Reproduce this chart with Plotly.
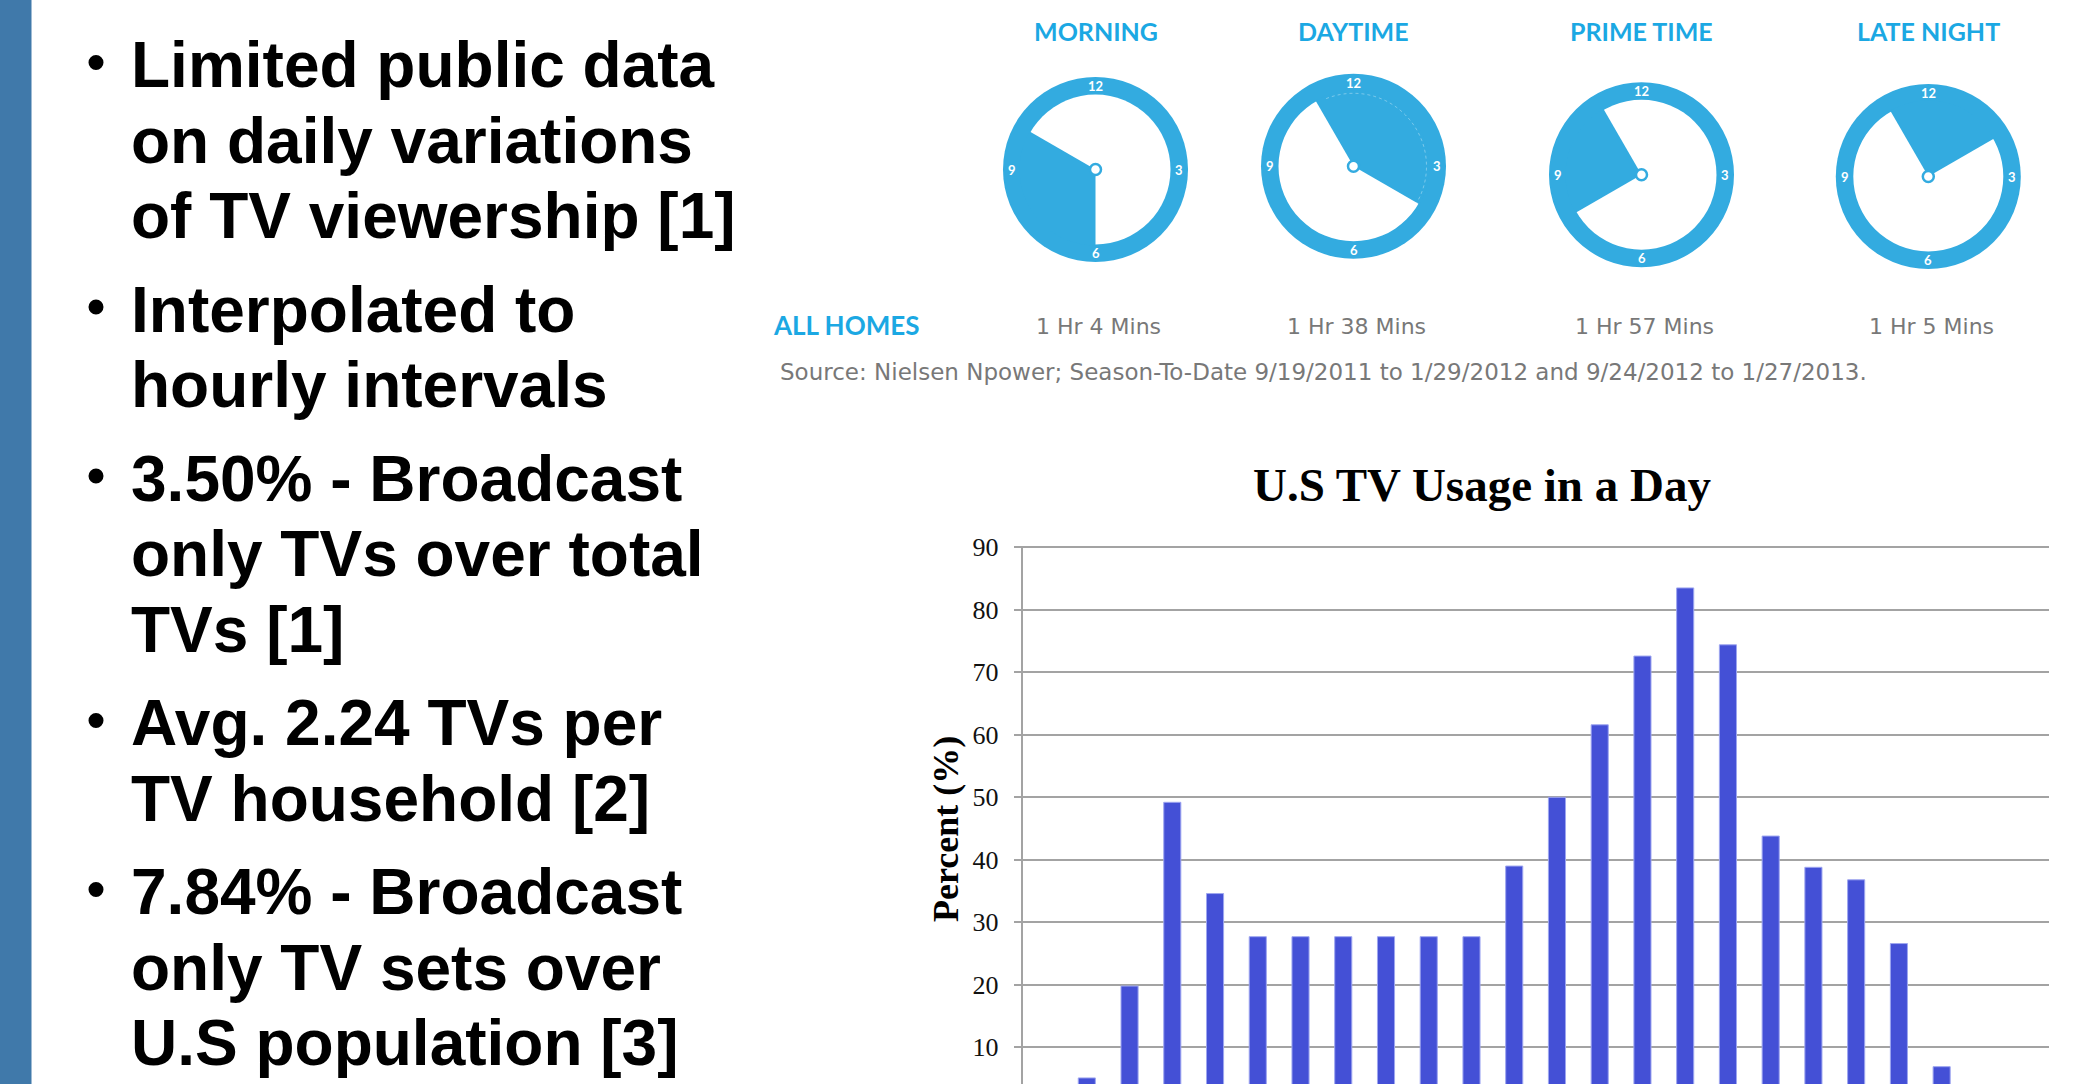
import numpy as np
import plotly.graph_objects as go

W, H = 2094, 1084

# ---- hourly TV usage (percent of TV homes using TV), hours 0..23 ----
hours = list(range(24))
usage_pct = [3.0, 5.1, 19.8, 49.2, 34.6, 27.7, 27.7, 27.7, 27.7, 27.7, 27.7, 39.0,
             50.0, 61.6, 72.6, 83.5, 74.4, 43.8, 38.8, 36.8, 26.6, 6.9, 2.0, 1.0]
y_ticks = [10, 20, 30, 40, 50, 60, 70, 80, 90]
chart_title = "U.S TV Usage in a Day"
y_title = "Percent (%)"

# ---- Nielsen daypart clocks ----
dayparts = ["MORNING", "DAYTIME", "PRIME TIME", "LATE NIGHT"]
daypart_start = [6, 11, 8, 11]   # clock hour where the shaded wedge starts
daypart_end = [10, 4, 11, 2]     # clock hour where it ends (clockwise)
daypart_time = ["1 Hr 4 Mins", "1 Hr 38 Mins", "1 Hr 57 Mins", "1 Hr 5 Mins"]
face_numbers = ["12", "3", "6", "9"]
row_label = "ALL HOMES"
source_note = ("Source: Nielsen Npower; Season-To-Date 9/19/2011 to 1/29/2012 "
               "and 9/24/2012 to 1/27/2013.")

# ---- bullet text ----
bullets = [
    ["Limited public data", "on daily variations", "of TV viewership [1]"],
    ["Interpolated to", "hourly intervals"],
    ["3.50% - Broadcast", "only TVs over total", "TVs [1]"],
    ["Avg. 2.24 TVs per", "TV household [2]"],
    ["7.84% - Broadcast", "only TV sets over", "U.S population [3]"],
]

CLOCK_BLUE = "#33ABE0"
TITLE_BLUE = "#1BA8E3"
BAR_BLUE = "#4450D6"
GRID = "#a3a3a3"


def px(x):
    return x / W


def py(y):
    return 1 - y / H


def path_from(points, close=True):
    s = "M " + " L ".join(f"{px(x):.6f},{py(y):.6f}" for x, y in points)
    return s + (" Z" if close else "")


def clock_point(cx, cy, r, theta_deg):
    t = np.radians(theta_deg)
    return cx + r * np.sin(t), cy - r * np.cos(t)


fig = go.Figure()

fig.add_trace(go.Bar(
    x=hours, y=usage_pct, width=0.4,
    marker=dict(color=BAR_BLUE, line=dict(color="#9ea6f0", width=1)),
    hoverinfo="x+y",
))

plot_left, plot_right, grid90 = 1022.7, 2048.5, 547.3
px_per_unit = 6.25
y_top = 90.25
plot_top = grid90 - (y_top - 90) * px_per_unit
y_bottom = 90 - (H - grid90) / px_per_unit

fig.update_layout(
    width=W, height=H,
    margin=dict(l=0, r=0, t=0, b=0, pad=0, autoexpand=False),
    paper_bgcolor="white", plot_bgcolor="white",
    showlegend=False,
    bargap=0.6,
    xaxis=dict(domain=[px(plot_left), px(plot_right)], range=[-0.5, 23.5],
               visible=False, fixedrange=True, automargin=False),
    yaxis=dict(domain=[0, py(plot_top)], range=[y_bottom, y_top], tickvals=y_ticks,
               showgrid=True, gridcolor=GRID, gridwidth=2,
               showline=True, linecolor=GRID, linewidth=2,
               ticks="outside", ticklen=7, tickwidth=2, tickcolor=GRID,
               ticklabelstandoff=10, automargin=False,
               tickfont=dict(family="Liberation Serif", size=26, color="#111111"),
               zeroline=False, fixedrange=True),
)

shapes = []
annotations = []

# left accent bar
shapes.append(dict(type="rect", xref="paper", yref="paper", x0=0, x1=px(31.5),
                   y0=0, y1=1, fillcolor="#4079AA", line=dict(width=0), layer="below"))

# bullets
font_size = 64
for p_idx, para in enumerate(bullets):
    for l_idx, line in enumerate(para):
        n = sum(len(p) for p in bullets[:p_idx]) + l_idx
        baseline = 86.5 + 75.5 * n + 18 * p_idx
        if l_idx == 0:
            shapes.append(dict(type="circle", xref="paper", yref="paper",
                               x0=px(88.5), x1=px(103.5),
                               y0=py(baseline - 16.5), y1=py(baseline - 31.5),
                               fillcolor="black", line=dict(width=0)))
        annotations.append(dict(
            text=f"<b>{line}</b>", x=px(129), y=py(baseline - 0.33 * font_size),
            xref="paper", yref="paper", xanchor="left", yanchor="middle",
            showarrow=False, font=dict(family="Liberation Sans", size=font_size, color="black")))

# clocks
centers = [(1095.5, 169.5), (1353.5, 166.3), (1641.5, 174.7), (1928.3, 176.5)]
r_out, r_in = 92.5, 75.0
for i, (cx, cy) in enumerate(centers):
    shapes.append(dict(type="circle", xref="paper", yref="paper",
                       x0=px(cx - r_out), x1=px(cx + r_out), y0=py(cy + r_out), y1=py(cy - r_out),
                       fillcolor=CLOCK_BLUE, line=dict(width=0)))
    shapes.append(dict(type="circle", xref="paper", yref="paper",
                       x0=px(cx - r_in), x1=px(cx + r_in), y0=py(cy + r_in), y1=py(cy - r_in),
                       fillcolor="white", line=dict(width=0)))
    a0 = daypart_start[i] * 30.0
    a1 = daypart_end[i] * 30.0
    if a1 <= a0:
        a1 += 360.0
    thetas = np.linspace(a0, a1, 80)
    pts = [(cx, cy)] + [clock_point(cx, cy, r_in + 1, t) for t in thetas]
    shapes.append(dict(type="path", xref="paper", yref="paper", path=path_from(pts),
                       fillcolor=CLOCK_BLUE, line=dict(width=0)))
    if dayparts[i] == "DAYTIME":
        arc = [clock_point(cx, cy, r_in - 2, t) for t in np.linspace(a0 + 8, a1, 60)]
        shapes.append(dict(type="path", xref="paper", yref="paper", path=path_from(arc, close=False),
                           line=dict(color="rgba(255,255,255,0.35)", width=1, dash="dot")))
    shapes.append(dict(type="circle", xref="paper", yref="paper",
                       x0=px(cx - 5.5), x1=px(cx + 5.5), y0=py(cy + 5.5), y1=py(cy - 5.5),
                       fillcolor="white", line=dict(color=CLOCK_BLUE, width=2.5)))
    for k, num in enumerate(face_numbers):
        nx, ny = clock_point(cx, cy, (r_out + r_in) / 2, k * 90)
        annotations.append(dict(text=f"<b>{num}</b>", x=px(nx), y=py(ny), xref="paper", yref="paper",
                                xanchor="center", yanchor="middle", showarrow=False,
                                font=dict(family="Lato", size=13, color="white")))
    annotations.append(dict(text=f"<b>{dayparts[i]}</b>", x=px(cx), y=py(31), xref="paper",
                            yref="paper", xanchor="center", yanchor="middle", showarrow=False,
                            font=dict(family="Lato", size=25, color=TITLE_BLUE)))
    annotations.append(dict(text=daypart_time[i], x=px(cx + 3), y=py(326), xref="paper",
                            yref="paper", xanchor="center", yanchor="middle", showarrow=False,
                            font=dict(family="DejaVu Sans", size=22, color="#787878")))

annotations.append(dict(text=f"<b>{row_label}</b>", x=px(771), y=py(325), xref="paper", yref="paper",
                        xanchor="left", yanchor="middle", showarrow=False,
                        font=dict(family="Lato", size=26, color=TITLE_BLUE)))
annotations.append(dict(text=source_note, x=px(778), y=py(372), xref="paper", yref="paper",
                        xanchor="left", yanchor="middle", showarrow=False,
                        font=dict(family="DejaVu Sans", size=23, color="#787878")))

# chart title and y-axis title
annotations.append(dict(text=f"<b>{chart_title}</b>", x=px(1482), y=py(485), xref="paper",
                        yref="paper", xanchor="center", yanchor="middle", showarrow=False,
                        font=dict(family="Liberation Serif", size=47, color="black")))
annotations.append(dict(text=f"<b>{y_title}</b>", x=px(946), y=py(829), xref="paper",
                        yref="paper", xanchor="center", yanchor="middle", showarrow=False,
                        textangle=-90,
                        font=dict(family="Liberation Serif", size=36, color="black")))

fig.update_layout(shapes=shapes, annotations=annotations)
fig.write_html("out.html")
